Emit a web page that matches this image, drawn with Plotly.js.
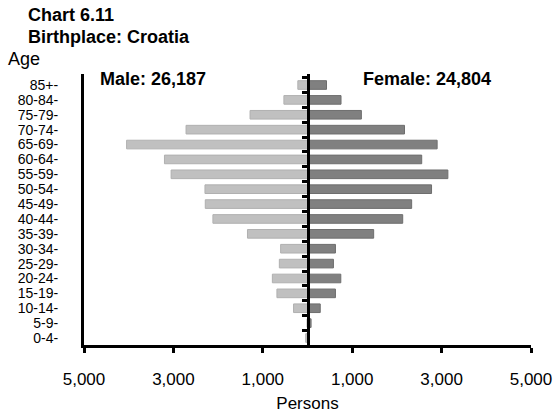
<!DOCTYPE html>
<html><head><meta charset="utf-8">
<script src="https://cdn.plot.ly/plotly-3.0.1.min.js"></script>
<style>html,body{margin:0;padding:0;background:#fff}#c{width:553px;height:415px}</style>
</head><body><div id="c"></div>
<script>
const ageGroups = ["0-4","5-9","10-14","15-19","20-24","25-29","30-34","35-39","40-44","45-49","50-54","55-59","60-64","65-69","70-74","75-79","80-84","85+"];
const maleValues = [40,10,312,684,786,630,601,1343,2116,2287,2294,3051,3200,4047,2717,1285,528,216];
const femaleValues = [40,80,285,625,745,580,625,1480,2130,2330,2775,3140,2555,2900,2170,1205,750,425];
const xTickVals = [-5000,-3000,-1000,1000,3000,5000];
const xTickText = ["5,000","3,000","1,000","1,000","3,000","5,000"];
const maleLabel = "Male: 26,187";
const femaleLabel = "Female: 24,804";
const FONT = "Arial, 'Liberation Sans', sans-serif";
const L = 84, R = 531, T = 74, B = 345;
const py = p => (B - p) / (B - T);
const px = p => (p - L) / (R - L);

const data = [
  {type:'bar', orientation:'h', y:ageGroups, x:maleValues.map(v=>-v), name:'Male',
   marker:{color:'#c0c0c0', line:{color:'#b0b0b0', width:1}}, hoverinfo:'skip'},
  {type:'bar', orientation:'h', y:ageGroups, x:femaleValues, name:'Female',
   marker:{color:'#808080', line:{color:'#6e6e6e', width:1}}, hoverinfo:'skip'},
  {type:'scatter', mode:'markers', y:ageGroups, x:ageGroups.map(()=>0), yaxis:'y2',
   marker:{opacity:0}, showlegend:false, hoverinfo:'skip'}
];

const yRange = [-0.47, 17.74];
const layout = {
  width:553, height:415,
  margin:{l:L, r:553-R, t:T, b:415-B},
  paper_bgcolor:'#fff', plot_bgcolor:'#fff',
  showlegend:false,
  barmode:'relative', bargap:0.42,
  font:{family:FONT, color:'#000', size:17},
  xaxis:{range:[-5000,5000], tickvals:xTickVals, ticktext:xTickText, showgrid:false, zeroline:false,
         showline:true, linewidth:3, linecolor:'#000', ticks:'outside', ticklen:5, tickwidth:3, tickcolor:'#000',
         tickfont:{size:17}, ticklabelstandoff:12, ticklabeloverflow:'allow',
         title:{text:'Persons', font:{size:17}, standoff:9}, fixedrange:true},
  yaxis:{type:'category', categoryorder:'array', categoryarray:ageGroups, range:yRange,
         tickmode:'linear', tick0:0, dtick:1,
         showgrid:false, zeroline:false, showline:true, linewidth:3, linecolor:'#000', ticks:'',
         ticksuffix:'-', tickfont:{size:14}, ticklabelstandoff:20, fixedrange:true},
  yaxis2:{type:'category', categoryorder:'array', categoryarray:ageGroups, range:yRange,
          tickmode:'linear', tick0:0, dtick:1,
          overlaying:'y', anchor:'free', position:0.5, side:'left', showgrid:false, zeroline:false,
          showline:true, linewidth:3, linecolor:'#000', ticks:'outside', ticklen:5, tickwidth:3,
          tickcolor:'#000', tickson:'boundaries', showticklabels:false, layer:'above traces', fixedrange:true},
  annotations:[
    {text:'<b>Chart 6.11</b>', xref:'paper', yref:'paper', x:px(26), y:py(15), xanchor:'left', yanchor:'middle',
     showarrow:false, font:{size:18}},
    {text:'<b>Birthplace: Croatia</b>', xref:'paper', yref:'paper', x:px(26), y:py(37), xanchor:'left', yanchor:'middle',
     showarrow:false, font:{size:18}},
    {text:'Age', xref:'paper', yref:'paper', x:px(6), y:py(59), xanchor:'left', yanchor:'middle',
     showarrow:false, font:{size:18}},
    {text:'<b>'+maleLabel+'</b>', xref:'paper', yref:'paper', x:px(98), y:py(79), xanchor:'left', yanchor:'middle',
     showarrow:false, font:{size:18}},
    {text:'<b>'+femaleLabel+'</b>', xref:'paper', yref:'paper', x:px(361), y:py(79), xanchor:'left', yanchor:'middle',
     showarrow:false, font:{size:18}}
  ]
};
Plotly.newPlot('c', data, layout, {staticPlot:true, displayModeBar:false});
</script></body></html>
